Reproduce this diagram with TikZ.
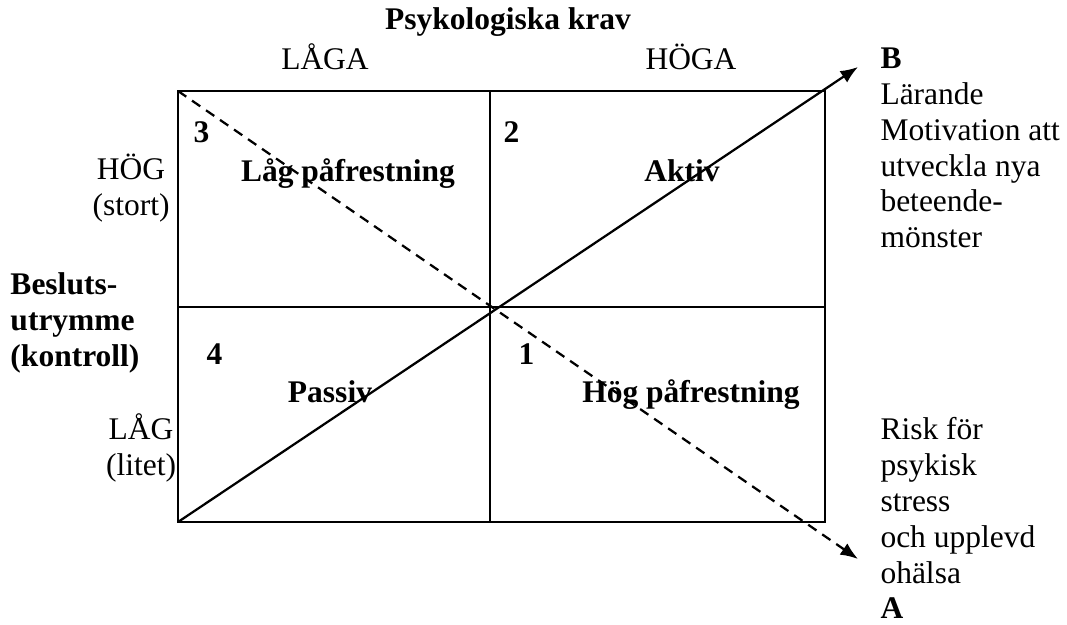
\documentclass[tikz,border=0pt]{standalone}
\usepackage{fontspec}
\setmainfont{Liberation Serif}
\usetikzlibrary{arrows.meta,positioning}

\begin{document}
\begin{tikzpicture}[
    x=0.4pt, y=-0.4pt,
    every node/.style={font=\fontsize{12.6}{14.3}\selectfont, inner sep=0pt},
    head/.style={font=\fontsize{12.6}{14.3}\selectfont\bfseries},
    level/.style={align=flush center, text width=40pt, anchor=base},
    quad/.style={font=\fontsize{12.6}{14.3}\selectfont\bfseries, anchor=base},
    num/.style={font=\fontsize{12.6}{14.3}\selectfont\bfseries, anchor=base west},
    note/.style={align=flush left, text width=78pt, anchor=base west},
    grid/.style={line width=0.8pt},
    flow/.style={-{Latex[length=7pt,width=5.5pt]}, line width=0.9pt},
    risk/.style={-{Latex[length=7pt,width=5.5pt]}, line width=0.9pt, dash pattern=on 4pt off 2.8pt}
]
\useasboundingbox (0,0) rectangle (1067,625);
% the four fields
\coordinate (tl) at (178,91);
\coordinate (tr) at (825,91);
\coordinate (bl) at (178,522);
\coordinate (br) at (825,522);
\coordinate (mt) at (490,91);
\coordinate (mb) at (490,522);
\coordinate (ml) at (178,307);
\coordinate (mr) at (825,307);
\coordinate (tipB) at (858,67);
\coordinate (tipA) at (858,559);
\draw[grid] (tl) rectangle (br);
\draw[grid] (mt) -- (mb);
\draw[grid] (ml) -- (mr);
% axis texts
\node[head, anchor=base] (krav) at (508,30) {Psykologiska krav};
\node[anchor=base] (laga) at (325,70) {LÅGA};
\node[anchor=base] (hoga) at (691,70) {HÖGA};
\node[level] (hog) at (131,180) {HÖG\\(stort)};
\node[level] (lag) at (141,440) {LÅG\\(litet)};
\node[head, align=flush left, text width=60pt, anchor=base west] (beslut) at (10,295) {Besluts-\\utrymme\\(kontroll)};
% fields
\node[num] (n3) at (193,143) {3};
\node[num] (n2) at (503,143) {2};
\node[num] (n4) at (206,365) {4};
\node[num] (n1) at (518,365) {1};
\node[quad] (lagp) at (348,182) {Låg påfrestning};
\node[quad] (aktiv) at (682,182) {Aktiv};
\node[quad] (passiv) at (330,403) {Passiv};
\node[quad] (hogp) at (691,403) {Hög påfrestning};
% outcomes
\node[note] (utfallB) at (880,69) {\textbf{B}\\Lärande\\Motivation att\\utveckla nya\\beteende-\\mönster};
\node[note] (utfallA) at (880,440) {Risk för\\psykisk\\stress\\och upplevd\\ohälsa\\\textbf{A}};
\draw[flow] (bl) -- (tipB);
\draw[risk] (tl) -- (tipA);
\end{tikzpicture}
\end{document}
